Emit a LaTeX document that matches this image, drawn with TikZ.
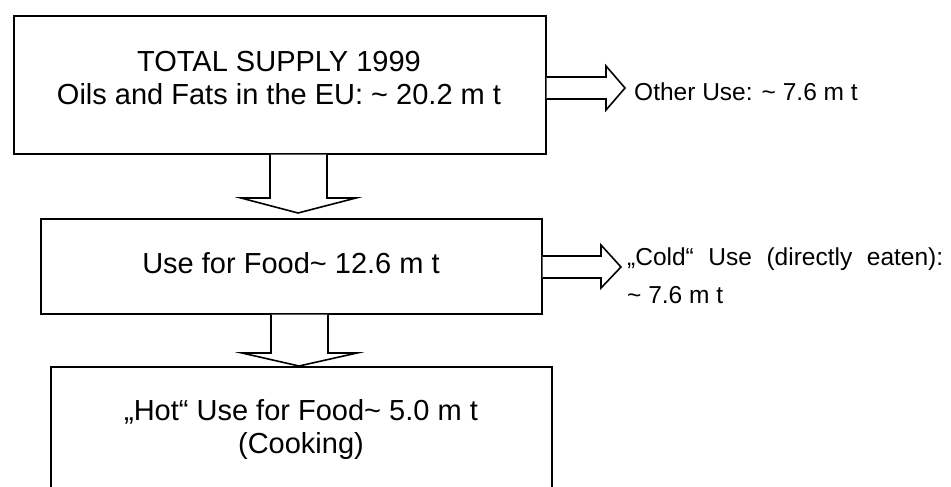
\documentclass[tikz,border=0pt]{standalone}
\usepackage{fontspec}
\setmainfont{Liberation Sans}
\usetikzlibrary{calc}
\begin{document}
\begin{tikzpicture}[x=1pt,y=-1pt,
  box/.style={draw=black, line width=1.6pt, rectangle, inner sep=0pt, anchor=north west},
  big/.style={font=\fontsize{29}{33}\selectfont, inner sep=0pt, anchor=base},
  small/.style={font=\fontsize{24.5}{38}\selectfont, inner sep=0pt, anchor=base west},
  blockarrow/.style={draw=black, line width=1.6pt, fill=white, line join=miter}]
\useasboundingbox (0,0) rectangle (951,487);
\clip (0,0) rectangle (951,487);

% the three boxes
\node[box, minimum width=532pt, minimum height=138pt] (total) at (13,15) {};
\node[box, minimum width=501pt, minimum height=95pt] (food) at (40,218) {};
\node[box, minimum width=501pt, minimum height=160pt] (hot) at (50,366) {};

% box texts, one node per line
\node[big] (total1) at (279,72) {TOTAL SUPPLY 1999};
\node[big] (total2) at (279,105) {Oils and Fats in the EU: \textasciitilde{} 20.2 m t};
\node[big] (foodtext) at (291,273) {Use for Food\textasciitilde{} 12.6 m t};
\node[big] (hot1) at (301,420) {„Hot“ Use for Food\textasciitilde{} 5.0 m t};
\node[big] (hot2) at (301,453) {(Cooking)};

% side texts
\node[small] (other) at (634,100) {Other Use: \textasciitilde{} 7.6 m t};
\node[small] (cold1) at (627,265) {\makebox[316pt][s]{„Cold“ Use (directly eaten):}};
\node[small] (cold2) at (627,303) {\textasciitilde{} 7.6 m t};

% block arrows to the right
\draw[blockarrow] (total.east |- 0,77) -- (606,77) -- (606,66) -- (625,88) -- (606,110) -- (606,99) -- (total.east |- 0,99);
\draw[blockarrow] (food.east |- 0,256) -- (601,256) -- (601,245) -- (621,267) -- (601,288) -- (601,278) -- (food.east |- 0,278);

% block arrows downwards
\draw[blockarrow] (270,0 |- total.south) -- (270,198) -- (241,198) -- (298,213) -- (356,198) -- (327,198) -- (327,0 |- total.south);
\draw[blockarrow] (271,0 |- food.south) -- (271,353) -- (242,353) -- (299,366) -- (357,353) -- (328,353) -- (328,0 |- food.south);
\end{tikzpicture}
\end{document}
